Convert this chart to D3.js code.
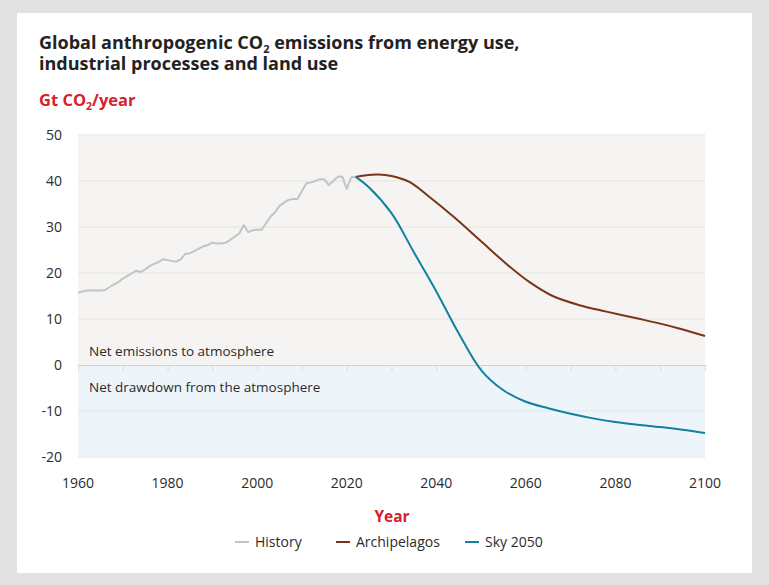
<!DOCTYPE html>
<html>
<head>
<meta charset="utf-8">
<script src="https://cdn.jsdelivr.net/npm/d3@7"></script>
<style>
  html, body { margin: 0; padding: 0; background: #e2e2e2; }
  svg { display: block; font-family: "Open Sans", sans-serif; }
</style>
</head>
<body>
<svg id="chart"></svg>
<script>
// History, Gt CO2 per year
const historyYears = d3.range(1960, 2023);
const historyValues = [
  15.7, 16.0, 16.2, 16.2, 16.2, 16.2, 16.3, 16.9, 17.5, 18.0,
  18.8, 19.3, 19.9, 20.5, 20.2, 20.8, 21.5, 22.0, 22.4, 23.0,
  22.8, 22.6, 22.5, 23.0, 24.2, 24.3, 24.8, 25.3, 25.8, 26.1,
  26.6, 26.4, 26.4, 26.6, 27.2, 27.9, 28.6, 30.4, 28.9, 29.3,
  29.4, 29.4, 30.8, 32.3, 33.2, 34.6, 35.3, 35.9, 36.1, 36.1,
  37.8, 39.5, 39.7, 40.0, 40.4, 40.4, 39.1, 40.0, 40.9, 41.0,
  38.3, 40.8, 40.9
];

// scenarios
const archipelagosYears = [2022, 2024, 2027, 2030, 2034, 2038, 2044, 2050, 2056,
  2061, 2066, 2072, 2078, 2085, 2090, 2094, 2100];
const archipelagosValues = [40.9, 41.2, 41.4, 41.1, 39.8, 36.9, 32.1, 26.9, 21.7,
  17.9, 15.0, 13.0, 11.6, 10.1, 9.0, 8.0, 6.3];
const sky2050Years = [2022, 2025, 2030, 2035, 2040, 2045, 2050, 2055, 2060,
  2065, 2070, 2075, 2080, 2085, 2090, 2095, 2100];
const sky2050Values = [40.9, 38.6, 33.0, 24.5, 16.0, 6.9, -1.1, -5.5, -8.0,
  -9.4, -10.6, -11.6, -12.4, -13.0, -13.5, -14.1, -14.8];

const xTicks = d3.range(1960, 2101, 20);
const yTicks = [50, 40, 30, 20, 10, 0, -10, -20];

const seriesNames = ["History", "Archipelagos", "Sky 2050"];
const seriesColors = ["#c4c4c4", "#7a3519", "#13809f"];

const width = 769, height = 585;
const svg = d3.select("#chart").attr("width", width).attr("height", height);

// white card
svg.append("rect")
  .attr("x", 17).attr("y", 13)
  .attr("width", 735).attr("height", 560)
  .attr("fill", "#ffffff");

const x = d3.scaleLinear().domain([1960, 2100]).range([78, 705]);
const y = d3.scaleLinear().domain([-20, 50]).range([457, 135]);

// backgrounds
svg.append("rect")
  .attr("x", x(1960)).attr("y", y(50))
  .attr("width", x(2100) - x(1960)).attr("height", y(0) - y(50))
  .attr("fill", "#f5f4f2");
svg.append("rect")
  .attr("x", x(1960)).attr("y", y(0))
  .attr("width", x(2100) - x(1960)).attr("height", y(-20) - y(0))
  .attr("fill", "#edf5fb");

// gridlines
svg.append("g")
  .selectAll("line")
  .data(yTicks.filter(d => d !== 0))
  .join("line")
  .attr("x1", x(1960)).attr("x2", x(2100))
  .attr("y1", d => y(d)).attr("y2", d => y(d))
  .attr("stroke", d => d > 0 ? "#e6e4e1" : "#dfe7ee")
  .attr("stroke-width", 1);

// zero axis with decade ticks
const zeroAxis = svg.append("g")
  .attr("transform", `translate(0,${y(0)})`)
  .call(d3.axisBottom(x).tickValues(d3.range(1960, 2101, 10)).tickSize(6).tickFormat(""));
zeroAxis.select(".domain").attr("stroke", "#c9d4e3");
zeroAxis.selectAll(".tick line").attr("stroke", "#d3dce8");

// y labels
svg.append("g")
  .selectAll("text")
  .data(yTicks)
  .join("text")
  .attr("x", 62)
  .attr("y", d => y(d))
  .attr("dy", "0.35em")
  .attr("text-anchor", "end")
  .attr("font-size", 14)
  .attr("fill", "#2b2b2b")
  .text(d => d);

// x labels
svg.append("g")
  .selectAll("text")
  .data(xTicks)
  .join("text")
  .attr("x", d => x(d))
  .attr("y", 488)
  .attr("text-anchor", "middle")
  .attr("font-size", 14)
  .attr("fill", "#2b2b2b")
  .text(d => d);

// region labels
svg.append("text")
  .attr("x", 89).attr("y", 356)
  .attr("font-size", 13.5).attr("fill", "#2b2b2b")
  .text("Net emissions to atmosphere");
svg.append("text")
  .attr("x", 89).attr("y", 392)
  .attr("font-size", 13.5).attr("fill", "#2b2b2b")
  .text("Net drawdown from the atmosphere");

// lines
const line = d3.line()
  .x(d => x(d[0]))
  .y(d => y(d[1]));
const smooth = d3.line()
  .x(d => x(d[0]))
  .y(d => y(d[1]))
  .curve(d3.curveCatmullRom.alpha(0.5));

const series = [
  { data: d3.zip(historyYears, historyValues), gen: line },
  { data: d3.zip(archipelagosYears, archipelagosValues), gen: smooth },
  { data: d3.zip(sky2050Years, sky2050Values), gen: smooth }
];

svg.append("g")
  .selectAll("path")
  .data(series)
  .join("path")
  .attr("d", d => d.gen(d.data))
  .attr("fill", "none")
  .attr("stroke", (d, i) => seriesColors[i])
  .attr("stroke-width", 2)
  .attr("stroke-linejoin", "round");

// title, two lines in one text
const title = svg.append("text")
  .attr("x", 39).attr("y", 49)
  .attr("font-size", 18).attr("font-weight", 700).attr("fill", "#222");
title.append("tspan").text("Global anthropogenic CO");
title.append("tspan").attr("font-size", 11).attr("dy", 4).text("2");
title.append("tspan").attr("dy", -4).text(" emissions from energy use,");
title.append("tspan").attr("x", 39).attr("dy", 20.5).text("industrial processes and land use");

// unit label
const unit = svg.append("text")
  .attr("x", 39).attr("y", 106)
  .attr("font-size", 16.5).attr("font-weight", 700).attr("fill", "#d8202a");
unit.append("tspan").text("Gt CO");
unit.append("tspan").attr("font-size", 10.5).attr("dy", 4).text("2");
unit.append("tspan").attr("dy", -4).text("/year");

// x axis title
svg.append("text")
  .attr("x", 392).attr("y", 522)
  .attr("text-anchor", "middle")
  .attr("font-size", 15.5).attr("font-weight", 700).attr("fill", "#d8202a")
  .text("Year");

// legend
const legendX = [235, 336, 465];
const legend = svg.append("g")
  .selectAll("g")
  .data(seriesNames)
  .join("g")
  .attr("transform", (d, i) => `translate(${legendX[i]},542)`);
legend.append("line")
  .attr("x1", 0).attr("x2", 14)
  .attr("stroke", (d, i) => seriesColors[i])
  .attr("stroke-width", 2);
legend.append("text")
  .attr("x", 20)
  .attr("dy", "0.35em")
  .attr("font-size", 14)
  .attr("fill", "#2b2b2b")
  .text(d => d);
</script>
</body>
</html>
